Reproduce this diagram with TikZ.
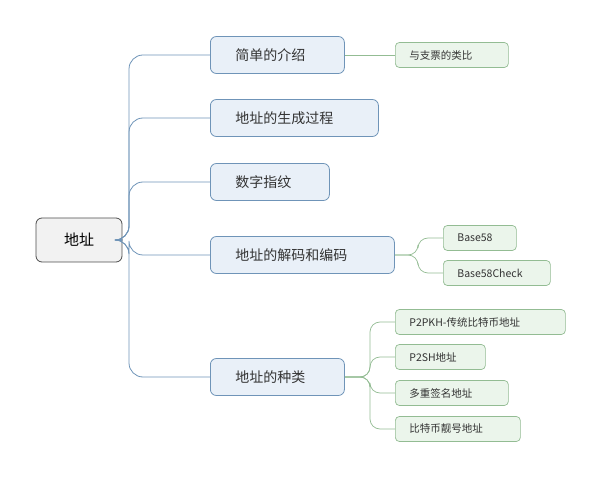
\documentclass[tikz,border=0pt]{standalone}
\usepackage{fontspec}
\setmainfont{Noto Sans CJK SC}
\definecolor{topline}{HTML}{6F94B8}
\definecolor{topfill}{HTML}{E9F0F8}
\definecolor{subline}{HTML}{93BC93}
\definecolor{subfill}{HTML}{EBF5EB}
\tikzset{
  root/.style={draw=black!70,fill=black!5,rounded corners=6pt,line width=0.8pt,
    minimum width=86pt,minimum height=44pt,font=\fontsize{15}{15}\selectfont},
  topic/.style={draw=topline,fill=topfill,rounded corners=6pt,line width=0.8pt,anchor=west,
    minimum height=37pt,inner xsep=0pt,text width=#1,align=left,
    font=\fontsize{14}{14}\selectfont,text=black!80,
    execute at begin node=\hspace*{25pt}},
  sub/.style={draw=subline,fill=subfill,rounded corners=4pt,line width=0.7pt,anchor=west,
    minimum height=25pt,inner xsep=0pt,text width=#1,align=left,
    font=\fontsize{10.5}{10.5}\selectfont,text=black!80,
    execute at begin node=\hspace*{14pt}},
  tolink/.style={draw=topline,line width=0.8pt,rounded corners=14pt},
  sublink/.style={draw=subline,line width=0.7pt,rounded corners=10pt}
}
\begin{document}
\begin{tikzpicture}[x=1pt,y=-1pt]
  \useasboundingbox (0,0) rectangle (600,478);
  \node[root] (addr) at (79,240) {地址};

  \node[topic=134pt] (intro) at (210,55)  {简单的介绍};
  \node[topic=168pt] (gen)   at (210,118) {地址的生成过程};
  \node[topic=119pt] (fp)    at (210,182) {数字指纹};
  \node[topic=184pt] (code)  at (210,255) {地址的解码和编码};
  \node[topic=134pt] (kind)  at (210,377) {地址的种类};

  \node[sub=113pt] (cheque) at (395,55)  {与支票的类比};
  \node[sub=73pt]  (b58)    at (443,238) {Base58};
  \node[sub=107pt] (b58c)   at (443,273) {Base58Check};
  \node[sub=170pt] (p2pkh)  at (395,322) {P2PKH-传统比特币地址};
  \node[sub=90pt]  (p2sh)   at (395,357) {P2SH地址};
  \node[sub=113pt] (multi)  at (395,393) {多重签名地址};
  \node[sub=125pt] (vanity) at (395,429) {比特币靓号地址};

  \coordinate (trunk) at (129,240);
  \foreach \t in {intro,gen,fp,code,kind}
    \draw[tolink] (addr.east) -- (trunk) |- (\t.west);

  \draw[sublink] (intro.east) -- (cheque.west);
  \coordinate (codej) at (418,255);
  \foreach \s in {b58,b58c}
    \draw[sublink] (code.east) -- (codej) |- (\s.west);
  \coordinate (kindj) at (370,377);
  \foreach \s in {p2pkh,p2sh,multi,vanity}
    \draw[sublink] (kind.east) -- (kindj) |- (\s.west);
\end{tikzpicture}
\end{document}
